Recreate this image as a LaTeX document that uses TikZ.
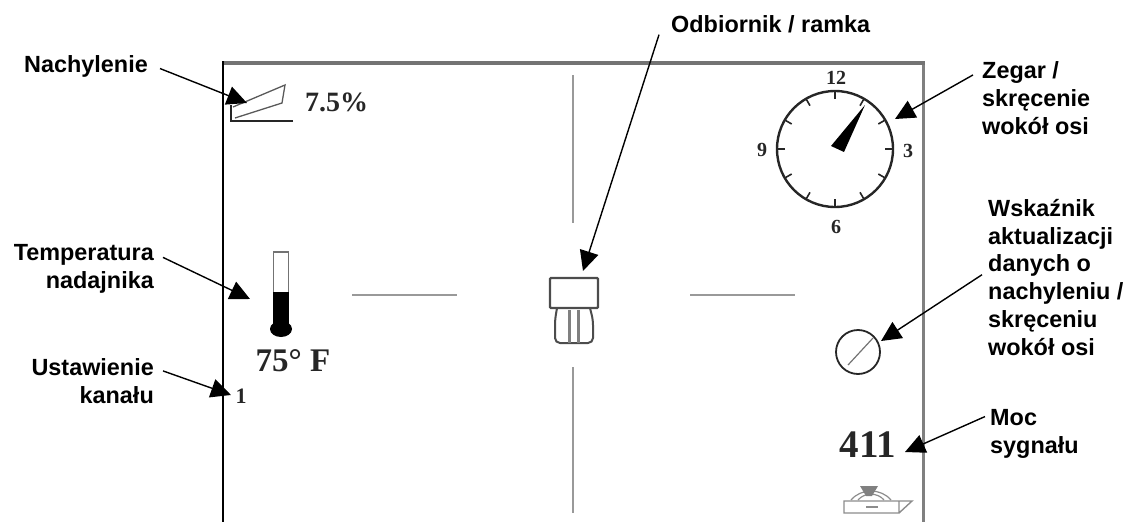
\documentclass[tikz,border=0pt]{standalone}
\usepackage{fontspec}
\setmainfont{Liberation Serif}
\setsansfont{Liberation Sans}
\usetikzlibrary{arrows.meta}
\definecolor{screenink}{gray}{0.15}
\definecolor{crossgray}{gray}{0.6}
\tikzset{
  callout/.style={font=\sffamily\bfseries\fontsize{23.4}{27.7}\selectfont,inner ysep=2pt},
  leftcall/.style={callout,align=right,anchor=base east},
  rightcall/.style={callout,align=left,anchor=base west},
  screentext/.style={font=\bfseries,text=screenink,inner sep=0pt},
  pointer/.style={-{Triangle[length=20pt,width=19pt]},line width=1.4pt}
}
\begin{document}
\begin{tikzpicture}[x=1pt,y=-1pt]
  \useasboundingbox (0,0) rectangle (1130,522);
  \draw[line width=3pt,black!50] (923,62) -- (923,522);
  \draw[line width=3.5pt,black!55] (222,63) -- (925,63);
  \draw[line width=2.5pt] (223,61) -- (223,522);

  \draw[line width=2.4pt,crossgray]
    (573,75) -- (573,223)
    (573,367) -- (573,513)
    (352,295) -- (457,295)
    (690,295) -- (795,295);

  \draw[line width=1.6pt,screenink] (293,121) -- (231,121) -- (231,105);
  \draw[line width=1.3pt,black!65] (233,107) -- (285,85) -- (282,103) -- (235,118);
  \node[screentext,font=\bfseries\fontsize{28}{28}\selectfont,anchor=west] (grade) at (305,102) {7.5\%};

  \draw[line width=1.8pt,black!55] (273.5,252) rectangle (288.5,295);
  \fill[black] (273,292) rectangle (289,325);
  \fill[black] (281,329) ellipse (11 and 8);
  \node[screentext,font=\bfseries\fontsize{33}{33}\selectfont] (temp) at (293,361) {75° F};
  \node[screentext,font=\bfseries\fontsize{22}{22}\selectfont] (channel) at (241,396) {1};

  \draw[line width=2.4pt,black!70,rounded corners=1pt] (550,278) rectangle (598,308);
  \draw[line width=2pt,black!70,rounded corners=5pt] (557,308) -- (555,320) -- (555,343) -- (593,343) -- (593,320) -- (590,308);
  \draw[line width=3pt,black!50] (569,310) -- (569,343) (578,310) -- (578,343);

  \draw[line width=2.4pt,screenink] (835,149) circle (58);
  \foreach \tick in {0,30,...,330}
    \draw[line width=1.6pt,screenink] (835,149) ++(\tick:50) -- ++(\tick:8);
  \fill[black] (865,105) -- (831,146) -- (844,152) -- cycle;
  \node[screentext,font=\bfseries\fontsize{20}{20}\selectfont] (twelve) at (836,78) {12};
  \node[screentext,font=\bfseries\fontsize{20}{20}\selectfont] (nine) at (762,150) {9};
  \node[screentext,font=\bfseries\fontsize{20}{20}\selectfont] (three) at (908,151) {3};
  \node[screentext,font=\bfseries\fontsize{20}{20}\selectfont] (six) at (836,227) {6};

  \draw[line width=1.8pt,screenink] (858,352) circle (22);
  \draw[line width=1.2pt,black!55] (848,365) -- (873,338);

  \node[screentext,font=\bfseries\fontsize{39}{39}\selectfont] (power) at (868,445) {411};

  \draw[line width=1.4pt,black!45] (844,501) rectangle (899,513) (899,501) -- (912,501) -- (899,513);
  \draw[line width=1.4pt,black!45] (866,507) -- (878,507);
  \draw[line width=1.2pt,black!45] (851,500) to[bend left=50] (891,500) (858,500) to[bend left=50] (884,500);
  \fill[black!50] (860,486) -- (878,486) -- (872,496) -- (866,496) -- cycle;

  \node[leftcall,inner xsep=12pt] (slope) at (160,72) {Nachylenie};
  \node[leftcall,inner xsep=9pt] (heat) at (163,288) {Temperatura\\nadajnika};
  \node[leftcall,inner xsep=9pt] (chan) at (163,403) {Ustawienie\\kanału};
  \node[callout,anchor=base west,inner xsep=12pt] (frame) at (659,32) {Odbiornik / ramka};
  \node[rightcall,inner xsep=9pt] (clock) at (973,134) {Zegar /\\skręcenie\\wokół osi};
  \node[rightcall,inner xsep=6pt] (update) at (982,355) {Wskaźnik\\aktualizacji\\danych o\\nachyleniu /\\skręceniu\\wokół osi};
  \node[rightcall,inner xsep=5pt] (signal) at (985,453) {Moc\\sygnału};

  \coordinate (slopetip) at (247,103);
  \coordinate (heattip) at (250,299);
  \coordinate (chantip) at (231,395);
  \coordinate (frametip) at (583,271);
  \coordinate (clocktip) at (895,119);
  \coordinate (updatetip) at (881,341);
  \coordinate (signaltip) at (905,452);

  \begin{scope}[pointer]
    \draw (slope.-2) -- (slopetip);
    \draw (heat.8) -- (heattip);
    \draw (chan.8) -- (chantip);
    \draw (frame.south west) -- (frametip);
    \draw (clock.160) -- (clocktip);
    \draw (update.178) -- (updatetip);
    \draw (signal.161) -- (signaltip);
  \end{scope}
\end{tikzpicture}
\end{document}
